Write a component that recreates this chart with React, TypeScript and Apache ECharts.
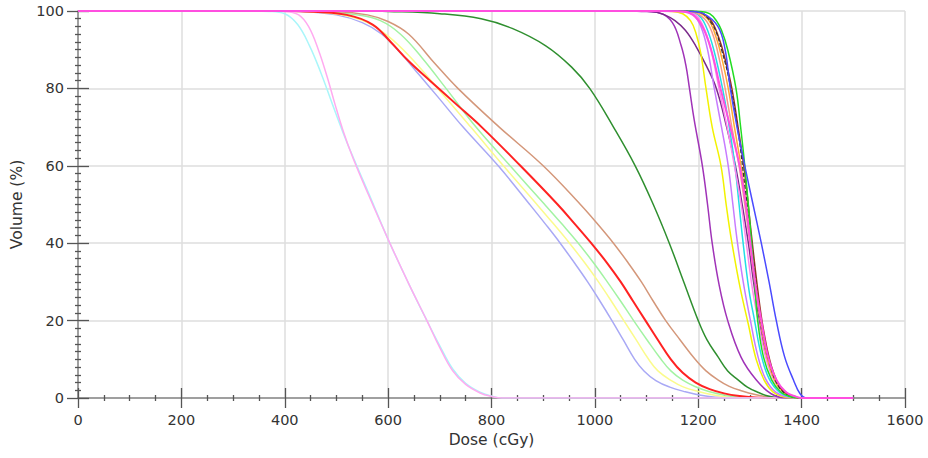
import React, { useEffect, useRef } from "react";
import * as echarts from "echarts";

// Axis ticks
const doseTicks = [0, 200, 400, 600, 800, 1000, 1200, 1400, 1600];
const volumeTicks = [0, 20, 40, 60, 80, 100];

// DVH curves: [dose (cGy), volume (%)]
const cyanPale = [[0,100],[330,100],[370,99.9],[400,99.3],[425,96.5],[448,91],[470,84],[492,76],[513,68.5],[533,62],[562,53],[600,41],[640,29.5],[675,20],[700,13.5],[725,7.5],[750,3.8],[778,1.5],[800,0.5],[820,0],[1500,0]];
const pinkPale = [[0,100],[360,100],[400,99.9],[427,99],[446,96],[465,90],[482,83],[497,76],[513,69],[532,62],[562,52.5],[600,41],[640,29.5],[675,20],[700,13],[725,7],[750,3.5],[778,1.3],[800,0.4],[820,0],[1500,0]];
const lavender = [[0,100],[380,100],[430,99.9],[500,99],[550,97],[588,94],[625,89],[660,83.5],[695,78],[745,70],[813,60],[874,50],[904,45],[933,40],[960,35],[986,30],[1010,25],[1033,20],[1055,15],[1077,10],[1095,7],[1118,4.5],[1145,2.8],[1175,1.6],[1205,0.7],[1235,0.2],[1260,0],[1500,0]];
const yellowPale = [[0,100],[390,100],[440,99.9],[510,99],[560,97],[600,93.5],[640,88.5],[696,80],[760,70],[823,60],[888,50],[920,45],[951,40],[980,35],[1007,30],[1032,25],[1056,20],[1080,15],[1104,10],[1122,7],[1148,4.5],[1172,2.8],[1200,1.7],[1230,0.8],[1260,0.2],[1285,0],[1500,0]];
const greenPale = [[0,100],[420,100],[470,99.9],[540,99],[585,97.5],[624,94],[665,88],[712,80],[770,70],[836,60],[903,50],[936,45],[968,40],[997,35],[1024,30],[1050,25],[1075,20],[1101,15],[1128,10],[1147,7],[1170,4.6],[1195,2.9],[1222,1.6],[1252,0.7],[1280,0.2],[1300,0],[1500,0]];
const redCurve = [[0,100],[390,100],[440,99.9],[520,99],[570,96.5],[605,92],[640,87],[681,82],[731,76],[781,70],[856,60],[928,50],[961,45],[993,40],[1023,35],[1050,30],[1074,25],[1098,20],[1122,15],[1147,10],[1170,6.5],[1195,4],[1222,2.3],[1250,1.2],[1280,0.5],[1310,0.1],[1330,0],[1500,0]];
const brownCurve = [[0,100],[450,100],[500,99.9],[560,99],[600,97.3],[640,94],[690,86.5],[735,80],[815,70],[900,60],[972,50],[1005,45],[1036,40],[1064,35],[1090,30],[1113,25],[1137,20],[1165,15],[1194,10],[1215,7],[1238,4.7],[1260,3],[1285,1.8],[1310,0.9],[1335,0.3],[1360,0],[1500,0]];
const darkGreen = [[0,100],[550,100],[600,99.9],[700,99.3],[780,98],[840,95.5],[905,91],[955,85.5],[990,80],[1036,70],[1078,60],[1113,50],[1144,40],[1172,30],[1200,20],[1217,15],[1238,10.7],[1257,7],[1277,4.7],[1295,2.8],[1315,1.5],[1335,0.5],[1360,0],[1500,0]];
const purpleDark = [[0,100],[1050,100],[1090,99.9],[1125,99.5],[1150,97],[1167,91],[1176,86],[1183,80],[1192,72],[1208,60],[1218,50],[1227,40],[1240,29.5],[1257,20],[1283,10.5],[1312,4.7],[1341,1.1],[1370,0],[1500,0]];
const purpleDeep = [[0,100],[1070,100],[1110,99.9],[1135,99],[1155,97.5],[1175,95],[1195,91],[1215,86],[1235,80],[1255,70],[1272,60],[1285,50],[1297,40],[1307,30],[1318,20],[1330,12],[1345,6],[1365,2],[1385,0.3],[1400,0],[1500,0]];
const yellowBright = [[0,100],[1110,100],[1150,99.9],[1170,99.3],[1185,97.5],[1195,94.5],[1205,89],[1215,80],[1227,70],[1244,60],[1254,50],[1264,41],[1281,28.5],[1297,19],[1312,10],[1328,4.5],[1345,1.5],[1365,0.3],[1385,0],[1500,0]];
const violet = [[0,100],[1125,100],[1165,99.9],[1190,99],[1205,96],[1218,90],[1231,80],[1245,70],[1258,60],[1267,50],[1275,41],[1287,30],[1301,20],[1315,11],[1330,5],[1350,1.5],[1372,0.3],[1390,0],[1500,0]];
const cyanBright = [[0,100],[1135,100],[1175,99.9],[1200,99],[1215,96],[1230,90],[1247,80],[1260,70],[1271,60],[1279,50],[1286,41],[1298,28],[1309,20],[1322,11],[1337,5],[1357,1.5],[1378,0.3],[1395,0],[1500,0]];
const pinkBright = [[0,100],[1130,100],[1170,99.9],[1195,99],[1213,95],[1228,88],[1240,80],[1256,70],[1270,60],[1283,50],[1292,41],[1305,28],[1316,20],[1330,10.7],[1346,4.7],[1365,1.5],[1385,0.3],[1400,0],[1500,0]];
const salmon = [[0,100],[1145,100],[1185,99.9],[1212,98],[1228,94],[1240,88],[1252,80],[1265,70],[1279,60],[1290,50],[1298,42],[1311,28],[1323,18],[1338,9],[1357,3],[1380,0.5],[1400,0],[1500,0]];
const orange = [[0,100],[1150,100],[1190,99.9],[1218,98],[1235,93],[1247,87],[1258,80],[1270,70],[1285,58],[1300,42],[1313,28],[1323,18],[1336,9],[1352,3.5],[1372,0.8],[1395,0],[1500,0]];
const darkRed = [[0,100],[1155,100],[1195,99.9],[1222,98],[1240,93],[1253,87],[1265,80],[1277,70],[1290,58],[1303,42],[1316,27],[1327,17],[1342,8],[1360,2.5],[1380,0.5],[1400,0],[1500,0]];
const blackDash = [[0,100],[1155,100],[1195,99.9],[1225,97],[1245,90],[1263,80],[1278,68],[1290,55],[1302,42],[1313,28],[1325,17],[1340,8],[1358,2.5],[1380,0.3],[1400,0],[1500,0]];
const greenBright = [[0,100],[1170,100],[1205,99.9],[1222,99.3],[1235,97.5],[1245,95],[1257,90],[1273,80],[1282,70],[1290,60],[1302,42],[1309,30],[1315,20],[1326,10.7],[1342,4.7],[1360,1.5],[1380,0.3],[1400,0],[1500,0]];
const blueBright = [[0,100],[1145,100],[1185,99.9],[1210,99.3],[1238,96],[1252,90],[1262,80],[1275,70],[1290,60],[1306,50],[1322,40],[1337,30],[1351,20],[1367,10.7],[1384,4.7],[1397,1.1],[1410,0],[1500,0]];
const magenta = [[0,100],[1130,100],[1170,99.9],[1190,99],[1208,96],[1225,90],[1243,80],[1262,70],[1280,60],[1292,50],[1300,41],[1312,28],[1322,20],[1335,10.7],[1351,4.7],[1370,1.5],[1390,0.3],[1400,0],[1500,0]];

const curves = [
  { name: "lavender", data: lavender, color: "#a9a9f5", width: 1.5 },
  { name: "yellowPale", data: yellowPale, color: "#fbfb8c", width: 1.5 },
  { name: "greenPale", data: greenPale, color: "#a3f3a3", width: 1.5 },
  { name: "brown", data: brownCurve, color: "#d4977a", width: 1.5 },
  { name: "red", data: redCurve, color: "#ff2222", width: 2 },
  { name: "darkGreen", data: darkGreen, color: "#2f8f2f", width: 1.5 },
  { name: "cyanPale", data: cyanPale, color: "#aaf6fa", width: 1.5 },
  { name: "pinkPale", data: pinkPale, color: "#ffaaf0", width: 1.5 },
  { name: "purpleDark", data: purpleDark, color: "#a033b8", width: 1.5 },
  { name: "purpleDeep", data: purpleDeep, color: "#7a2a8a", width: 1.5 },
  { name: "yellow", data: yellowBright, color: "#f2f200", width: 1.5 },
  { name: "violet", data: violet, color: "#c77bff", width: 1.5 },
  { name: "cyan", data: cyanBright, color: "#22dde6", width: 1.5 },
  { name: "pink", data: pinkBright, color: "#ff88ee", width: 1.5 },
  { name: "salmon", data: salmon, color: "#f59a8a", width: 1.5 },
  { name: "orange", data: orange, color: "#ffaa33", width: 1.5 },
  { name: "darkRed", data: darkRed, color: "#9a3322", width: 1.5 },
  { name: "black", data: blackDash, color: "#333333", width: 1.2, dashed: true },
  { name: "green", data: greenBright, color: "#22dd22", width: 1.5 },
  { name: "blue", data: blueBright, color: "#4a4aff", width: 1.5 },
  { name: "magenta", data: magenta, color: "#ff4fe0", width: 2 },
];

const FONT = "DejaVu Sans";

export default function App() {
  const ref = useRef<HTMLDivElement>(null);
  useEffect(() => {
    if (!ref.current) return;
    const chart = echarts.init(ref.current, undefined, { renderer: "svg" });
    const tickStyle = { color: "#555", width: 1.3 };
    const labelStyle = { fontFamily: FONT, fontSize: 14.5, color: "#333" };
    const nameStyle = { fontFamily: FONT, fontSize: 15.5, color: "#333" };
    chart.setOption({
      animation: false,
      backgroundColor: "#ffffff",
      grid: { left: 78, right: 23, top: 11, bottom: 60 },
      xAxis: [
        {
          type: "value", min: doseTicks[0], max: doseTicks[doseTicks.length - 1], interval: 200,
          position: "bottom",
          name: "Dose (cGy)", nameLocation: "middle", nameGap: 33,
          nameTextStyle: nameStyle,
          axisLine: { onZero: false, lineStyle: { color: "#888", width: 1.5 } },
          axisTick: { length: 10, lineStyle: tickStyle },
          minorTick: { show: true, splitNumber: 4, length: 3, lineStyle: tickStyle },
          axisLabel: { ...labelStyle, margin: 14, formatter: (v: number) => String(v) },
          splitLine: { show: true, lineStyle: { color: "#dedede", width: 1.5 } },
        },
        {
          type: "value", min: doseTicks[0], max: doseTicks[doseTicks.length - 1], interval: 200,
          position: "bottom",
          axisLine: { show: false, onZero: false },
          axisTick: { inside: true, length: 10, lineStyle: tickStyle },
          minorTick: { show: true, splitNumber: 4, length: 3, lineStyle: tickStyle },
          axisLabel: { show: false },
          splitLine: { show: false },
        },
      ],
      yAxis: [
        {
          type: "value", min: volumeTicks[0], max: volumeTicks[volumeTicks.length - 1], interval: 20,
          position: "left",
          name: "Volume (%)", nameLocation: "middle", nameGap: 52,
          nameTextStyle: nameStyle,
          axisLine: { onZero: false, lineStyle: { color: "#888", width: 1.5 } },
          axisTick: { length: 11, lineStyle: tickStyle },
          minorTick: { show: true, splitNumber: 10, length: 3, lineStyle: tickStyle },
          axisLabel: { ...labelStyle, margin: 14, formatter: (v: number) => String(v) },
          splitLine: { show: true, lineStyle: { color: "#dedede", width: 1.5 } },
        },
        {
          type: "value", min: volumeTicks[0], max: volumeTicks[volumeTicks.length - 1], interval: 20,
          position: "left",
          axisLine: { show: false, onZero: false },
          axisTick: { inside: true, length: 11, lineStyle: tickStyle },
          minorTick: { show: true, splitNumber: 10, length: 3, lineStyle: tickStyle },
          axisLabel: { show: false },
          splitLine: { show: false },
        },
      ],
      series: curves.map((c) => ({
        name: c.name,
        type: "line",
        data: c.data,
        showSymbol: false,
        symbol: "none",
        smooth: 0.4,
        lineStyle: { color: c.color, width: c.width, type: c.dashed ? [4, 2] : "solid" },
        emphasis: { disabled: true },
      })),
    });
    return () => chart.dispose();
  }, []);
  return (
    <div
      ref={ref}
      style={{ position: "fixed", left: 0, top: 0, width: 928, height: 458, background: "#fff" }}
    />
  );
}
